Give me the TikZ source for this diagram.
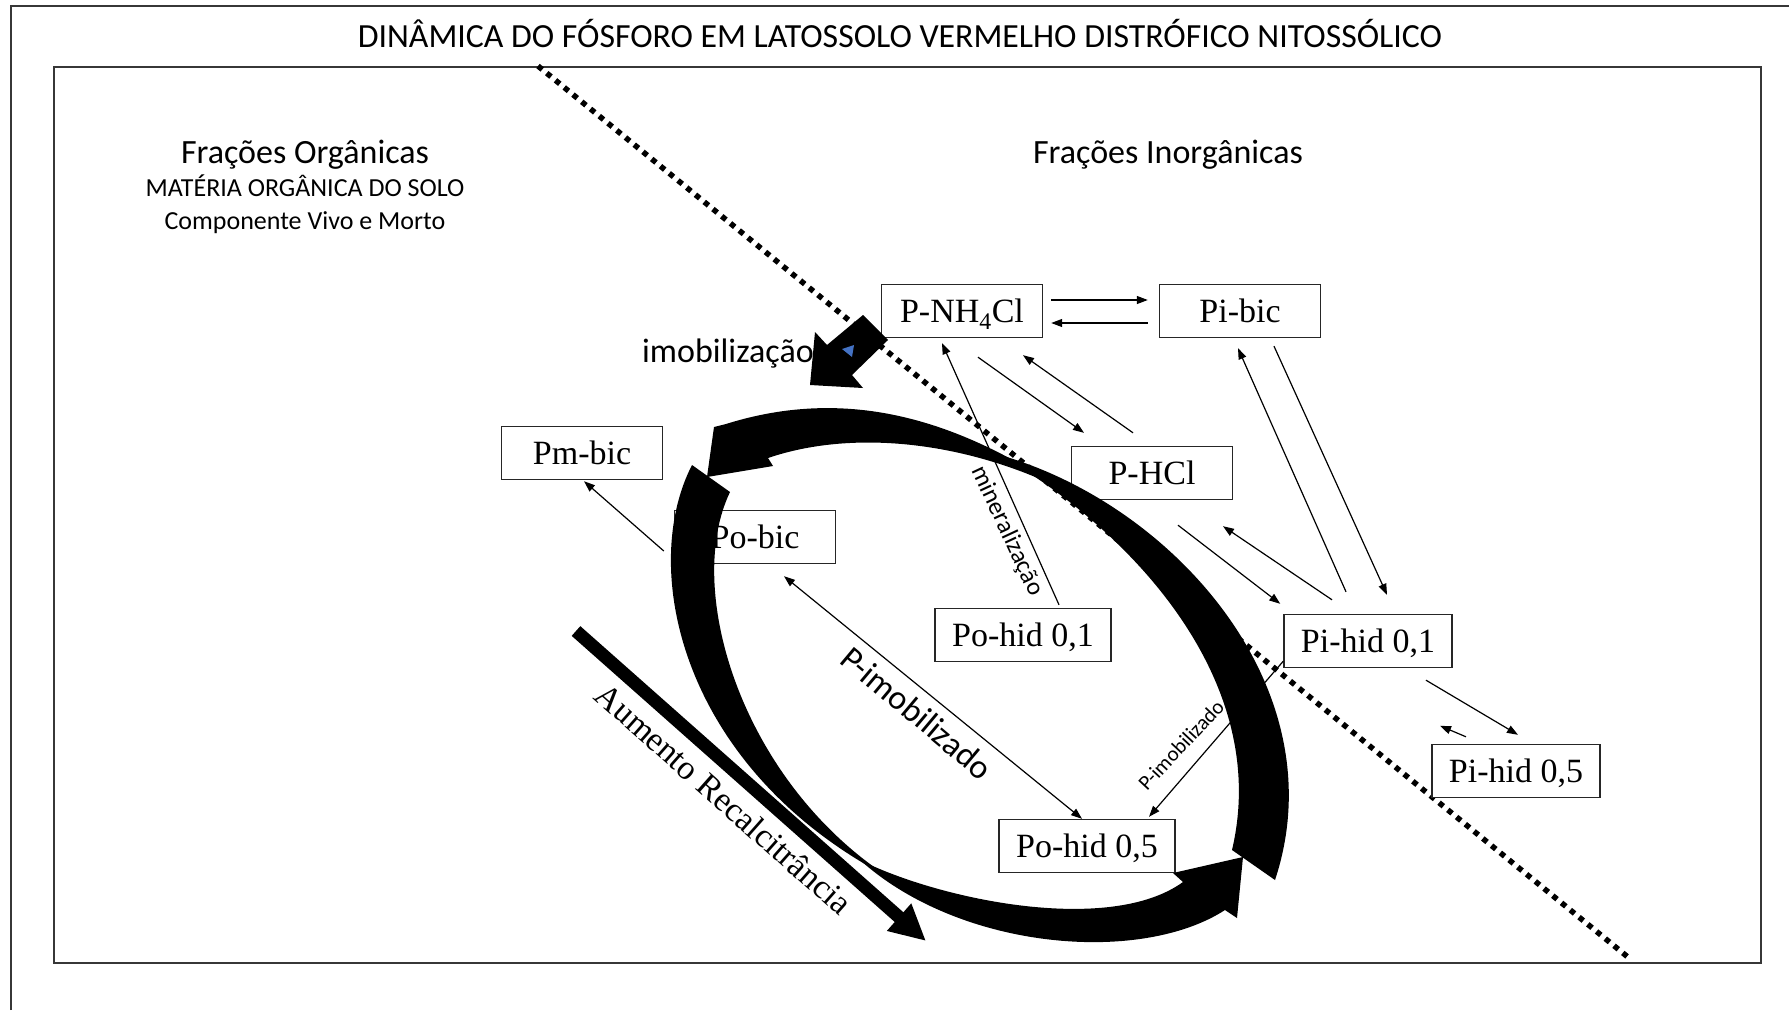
\documentclass[tikz,border=0pt]{standalone}
\usepackage{fontspec}
\newfontfamily\sansfr{Carlito}
\newfontfamily\seriffr{Liberation Serif}
\usetikzlibrary{arrows.meta, calc, positioning}
\definecolor{moldura}{RGB}{55,55,55}
\definecolor{azulppt}{RGB}{68,114,196}

\tikzset{
	fracao/.style={draw=black!85, line width=1.4pt, fill=white, minimum width=161pt, minimum height=53pt,
		inner xsep=17pt, inner ysep=0pt, text height=23pt, text depth=0pt,
		font=\seriffr\fontsize{34}{40}\selectfont},
	fluxo/.style={line width=1.2pt, -{Triangle[length=11pt,width=8pt]}},
	fluxoduplo/.style={line width=1.2pt, {Triangle[length=11pt,width=8pt]}-{Triangle[length=11pt,width=8pt]}},
	rotulo/.style={font=\sansfr\fontsize{#1}{#1}\selectfont, inner sep=0pt},
}

\begin{document}
\begin{tikzpicture}[x=1pt, y=-1pt]
	\useasboundingbox (0,0) rectangle (1789,1010);
	% molduras
	\draw[moldura, line width=2pt] (11,1010) -- (11,6) -- (1789,6);
	\draw[moldura, line width=2pt] (54,67) rectangle (1761,963);
	% titulos
	\node[rotulo=33.8, anchor=base] (titulo) at (900,47)
		{DINÂMICA DO FÓSFORO EM LATOSSOLO VERMELHO DISTRÓFICO NITOSSÓLICO};
	\node[rotulo=34, anchor=base] (organ) at (305,163) {Frações Orgânicas};
	\node[rotulo=26, anchor=base] (mos) at (305,196) {MATÉRIA ORGÂNICA DO SOLO};
	\node[rotulo=26, anchor=base] (vivo) at (305,229) {Componente Vivo e Morto};
	\node[rotulo=34, anchor=base] (inorg) at (1168,163) {Frações Inorgânicas};
	\node[rotulo=34, anchor=base west] (imob) at (642,362) {imobilização};
	% linha divisoria
	\draw[line width=5.5pt, dash pattern=on 5.5pt off 5.8pt] (538,66) -- (1629,958);
	% fracoes
	\node[fracao] (pnh) at (962,311) {P-NH\textsubscript{4}Cl};
	\node[fracao] (pibic) at (1240,311) {Pi-bic};
	\node[fracao] (phcl) at (1152,473) {P-HCl};
	\node[fracao] (pmbic) at (582,453) {Pm-bic};
	\node[fracao] (pobic) at (755,537) {Po-bic};
	\node[fracao] (pohid1) at (1023,635) {Po-hid 0,1};
	\node[fracao] (pihid1) at (1368,641) {Pi-hid 0,1};
	\node[fracao] (pihid5) at (1516,771) {Pi-hid 0,5};
	\node[fracao] (pohid5) at (1087,846) {Po-hid 0,5};
	% fluxos entre fracoes
	\draw[fluxo] ([shift={(8,-11)}]pnh.east) -- ([shift={(-11,-11)}]pibic.west);
	\draw[fluxo] ([shift={(-11,12)}]pibic.west) -- ([shift={(8,12)}]pnh.east);
	\draw[fluxo] ([shift={(16,19)}]pnh.south) -- ([shift={(-68,-13)}]phcl.north);
	\draw[fluxo] ([shift={(-19,-13)}]phcl.north) -- ([shift={(61,17)}]pnh.south);
	\draw[fluxo] ([shift={(36,-3)}]pohid1.north) -- ([shift={(-20,5)}]pnh.south);
	\draw[fluxo] ([shift={(34,8)}]pibic.south) -- ([shift={(19,-19)}]pihid1.north);
	\draw[fluxo] ([shift={(-22,-22)}]pihid1.north) -- ([shift={(-2,10)}]pibic.south);
	\draw[fluxo] ([shift={(26,25)}]phcl.south) -- ([shift={(-3,-10)}]pihid1.north west);
	\draw[fluxo] ([shift={(-36,-14)}]pihid1.north) -- ([shift={(71,26)}]phcl.south);
	\draw[fluxo] ([shift={(58,12)}]pihid1.south) -- ([shift={(2,-9)}]pihid5.north);
	\draw[fluxo] ([shift={(-50,-7)}]pihid5.north) -- ([shift={(-76,-18)}]pihid5.north);
	\draw[fluxo] ([shift={(-10,14)}]pobic.west) -- ([shift={(2,1)}]pmbic.south);
	\draw[fluxoduplo] ([shift={(29,12)}]pobic.south) -- ([shift={(-5,0)}]pohid5.north);
	\draw[fluxo] ([shift={(0,-7)}]pihid1.south west) -- ([shift={(62,-2)}]pohid5.north);
	% rotulos dos fluxos
	\node[rotulo=25, rotate=-65] (lblmin) at (1007,531) {mineralização};
	\node[rotulo=34, rotate=-40] (lblimob) at (917,713) {P-imobilizado};
	\node[rotulo=21, rotate=47] (lblimob2) at (1181,745) {P-imobilizado};
	\node[font=\seriffr\fontsize{34}{40}\selectfont, inner sep=0pt, rotate=-41.5] (lblrec) at (724,799)
		{Aumento Recalcitrância};
	% setas curvas do ciclo
	\fill (1060,488) .. controls (970,430) and (860,382) .. (726,424) -- (714,427) -- (707,477)
		-- (773,466) -- (768,458) .. controls (850,430) and (960,440) .. (1060,488) -- cycle;
	\fill (1000,455) .. controls (1175,505) and (1338,690) .. (1275,880) -- (1232,850)
		.. controls (1272,680) and (1130,530) .. (1000,455) -- cycle;
	\fill (692,465) .. controls (638,570) and (682,770) .. (890,878)
		.. controls (742,782) and (683,590) .. (730,492) -- cycle;
	\fill (860,860) .. controls (940,900) and (1110,935) .. (1183,882) -- (1173,873) -- (1243,857)
		-- (1237,918) -- (1225,910) .. controls (1140,965) and (960,950) .. (860,860) -- cycle;
	% seta de imobilizacao
	\fill (863,315) -- (888,340) -- (852,375) -- (863,388) -- (810,385) -- (815,332) -- (827,345) -- cycle;
	\fill[azulppt] (842,349) -- (854,345) -- (852,357) -- cycle;
	% recalcitrancia
	\coordinate (recini) at (576,631);
	\coordinate (recfim) at (926,941);
	\draw[line width=13pt, -{Triangle[length=36pt,width=34pt]}] (recini) -- (recfim);
\end{tikzpicture}
\end{document}
